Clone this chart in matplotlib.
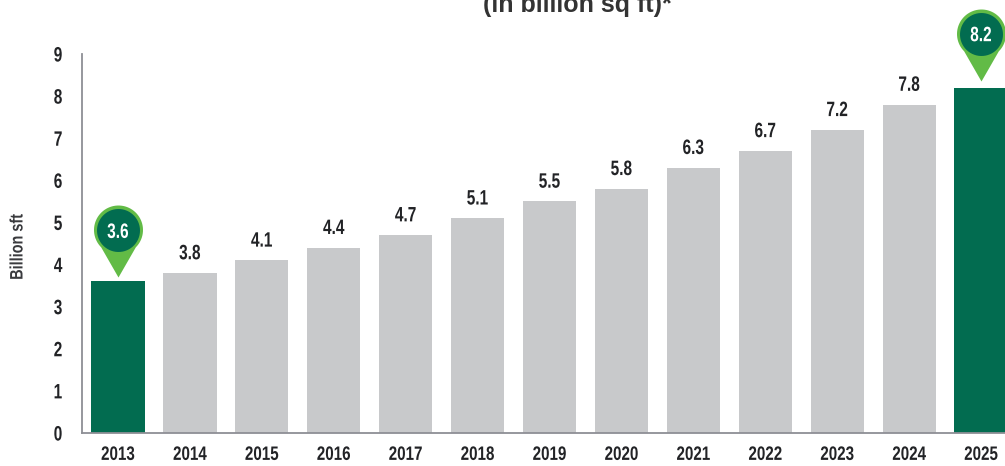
import numpy as np
import matplotlib
matplotlib.use('Agg')
import matplotlib.pyplot as plt
from matplotlib.path import Path
from matplotlib.patheffects import AbstractPathEffect
from matplotlib.transforms import Affine2D

years = ['2013', '2014', '2015', '2016', '2017', '2018', '2019', '2020', '2021', '2022', '2023', '2024', '2025']
area = [3.6, 3.8, 4.1, 4.4, 4.7, 5.1, 5.5, 5.8, 6.3, 6.7, 7.2, 7.8, 8.2]
highlight = ['2013', '2025']
yticks = [0, 1, 2, 3, 4, 5, 6, 7, 8, 9]

GREEN = '#026c50'
GREY = '#c8c9cb'
PIN = '#62bb46'
INK = '#222326'

PX = 72 / 100  # points per pixel at dpi 100


class Squeeze(AbstractPathEffect):
    # narrows the glyphs about the middle of the string, no condensed face is installed
    def __init__(self, sx):
        super().__init__()
        self.sx = sx

    def draw_path(self, renderer, gc, tpath, affine, rgbFace=None):
        xs = tpath.vertices[:, 0]
        cx = (xs.min() + xs.max()) / 2
        narrow = Affine2D().translate(-cx, 0).scale(self.sx, 1).translate(cx, 0)
        renderer.draw_path(gc, tpath, narrow + affine, rgbFace)


NARROW = [Squeeze(0.74)]


def pin_path(height=72, r=24.5):
    # teardrop with its tip on the origin
    cy = height - r
    ang = np.linspace(-0.25 * np.pi, 1.25 * np.pi, 60)
    xs = np.r_[0, r * np.cos(ang), 0]
    ys = np.r_[0, cy + r * np.sin(ang), 0]
    return Path(np.column_stack([xs, ys]), closed=True)


def disc_path(cy=47, r=21.5):
    ang = np.linspace(0, 2 * np.pi, 60)
    return Path(np.column_stack([r * np.cos(ang), cy + r * np.sin(ang)]), closed=True)


plt.rcParams['font.family'] = ['Liberation Sans', 'DejaVu Sans']
fig = plt.figure(figsize=(10.05, 4.66), dpi=100)
ax = fig.add_axes([82 / 1005, 33 / 466, 923 / 1005, 379 / 466])

x = np.arange(len(years))
colors = [GREEN if y in highlight else GREY for y in years]
bars = ax.bar(x, area, width=0.74, color=colors, linewidth=0)

ax.set_xlim(-36 / 71.92, (1005 - 118) / 71.92)
ax.set_ylim(0, 9)
ax.set_xticks(x, years)
ax.set_yticks(yticks)
ax.tick_params(axis='y', length=0, labelsize=15, labelcolor=INK, pad=13)
ax.tick_params(axis='x', length=0, labelsize=14, labelcolor=INK, pad=10)
for lab in ax.get_yticklabels():
    lab.set_fontweight('bold')
    lab.set_path_effects(NARROW)
for lab in ax.get_xticklabels():
    lab.set_fontweight('bold')
    lab.set_path_effects([Squeeze(0.78)])
for side in ['top', 'right']:
    ax.spines[side].set_visible(False)
for side in ['left', 'bottom']:
    ax.spines[side].set_color('#8e8f95')
    ax.spines[side].set_linewidth(1.3)

# value labels on the grey bars, the pins carry the other two
labels = ['' if y in highlight else f'{v:.1f}' for v, y in zip(area, years)]
for txt in ax.bar_label(bars, labels=labels, padding=7, fontsize=15, fontweight='bold', color=INK):
    txt.set_path_effects(NARROW)

gaps = {'2013': 4, '2025': 7}
for yr, gap in gaps.items():
    i = years.index(yr)
    for path, col in ((pin_path(), PIN), (disc_path(), GREEN)):
        marker = path.transformed(Affine2D().translate(0, gap))
        extent = np.abs(marker.vertices).max()
        ax.plot([i], [area[i]], marker=marker, markersize=2 * extent * PX,
                markeredgewidth=0, color=col, clip_on=False, zorder=3)
    ax.annotate(f'{area[i]:.1f}', (i, area[i]), xytext=(0, (gap + 45) * PX),
                textcoords='offset points', ha='center', va='center', color='white',
                fontsize=15, fontweight='bold', annotation_clip=False, zorder=4,
                path_effects=NARROW)

fig.text(18 / 1005, 1 - 247 / 466, 'Billion sft', rotation=90, ha='center', va='center',
         fontsize=13, fontweight='bold', color='#3a3b3e', path_effects=[Squeeze(0.8)])
fig.text(577 / 1005, 1 - 12 / 466, '(in billion sq ft)*', ha='center', va='baseline',
         fontsize=18, fontweight='bold', color='#333333')

plt.savefig('out.png', dpi=100)
